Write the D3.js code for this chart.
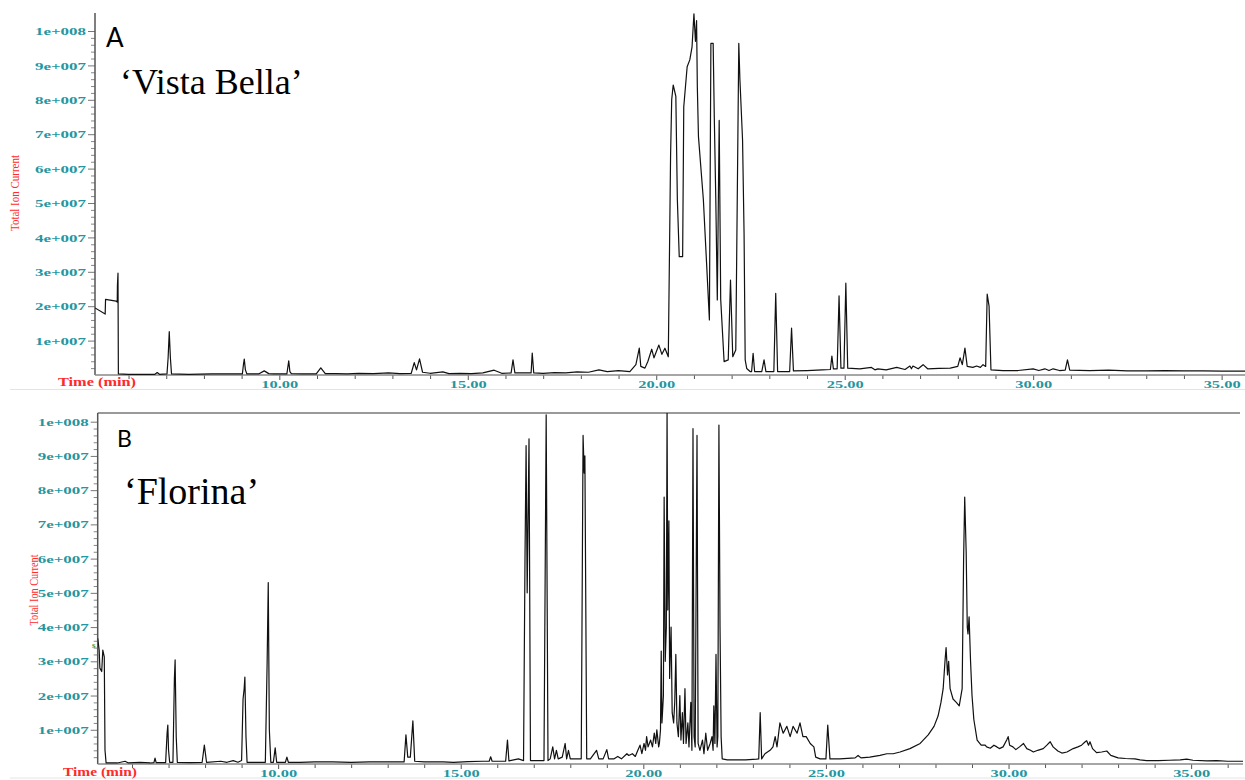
<!DOCTYPE html>
<html>
<head>
<meta charset="utf-8">
<script src="https://cdn.jsdelivr.net/npm/d3@7"></script>
<style>
    body { margin: 0; background: #fff; }
    svg { display: block; }
</style>
</head>
<body>
<div id="chart"></div>
<script>
// retention time (min) / total ion current (x 1e6)
var vistaBellaTime = [5.11,5.38,5.39,5.67,5.70,5.705,5.72,5.73,6.0,6.4,6.7,6.76,6.82,7.02,7.05,7.08,7.11,7.14,7.6,8.2,8.8,9.02,9.05,9.07,9.10,9.14,9.45,9.60,9.72,9.85,10.20,10.25,10.28,10.32,10.6,10.98,11.10,11.22,11.5,11.8,12.1,12.5,12.9,13.2,13.50,13.58,13.64,13.72,13.80,14.0,14.34,14.5,14.8,15.1,15.4,15.70,15.9,16.15,16.20,16.25,16.50,16.68,16.71,16.75,17.0,17.3,17.6,17.9,18.2,18.48,18.7,19.0,19.30,19.46,19.55,19.59,19.70,19.78,19.88,19.94,20.07,20.15,20.23,20.32,20.38,20.41,20.45,20.52,20.56,20.61,20.70,20.73,20.82,20.89,20.95,21.00,21.04,21.07,21.09,21.12,21.25,21.34,21.41,21.45,21.51,21.54,21.58,21.62,21.67,21.71,21.80,21.91,21.97,22.03,22.11,22.19,22.22,22.29,22.33,22.36,22.40,22.49,22.53,22.57,22.61,22.80,22.86,22.91,23.12,23.17,23.22,23.54,23.59,23.64,24.0,24.4,24.62,24.66,24.70,24.80,24.85,24.90,24.98,25.03,25.08,25.4,25.71,25.8,25.88,26.1,26.38,26.6,26.73,26.77,26.81,26.95,27.08,27.2,27.5,27.8,28.0,28.06,28.12,28.19,28.25,28.40,28.50,28.60,28.67,28.74,28.78,28.83,28.88,29.2,29.6,30.0,30.15,30.31,30.42,30.53,30.7,30.85,30.91,30.97,31.5,32.0,32.5,33.0,33.5,34.0,34.5,35.0,35.62];
var vistaBellaTIC = [19.5,17.7,22.0,21.5,21.2,26.0,29.6,0.3,0.2,0.2,0.2,0.7,0.2,0.3,5.0,12.6,5.0,0.3,0.2,0.3,0.3,0.3,3.2,4.6,1.5,0.3,0.3,1.2,0.4,0.3,0.3,4.1,1.0,0.4,0.3,0.3,2.1,0.4,0.4,0.3,0.5,0.4,0.6,0.4,0.5,3.6,1.5,4.7,0.8,0.5,0.9,0.4,0.5,0.4,0.6,1.4,0.5,0.6,4.4,0.6,0.6,0.6,6.4,0.6,0.5,0.7,0.6,0.9,0.8,1.5,1.0,1.3,1.0,3.0,7.8,2.5,2.0,4.0,7.5,5.0,8.7,6.0,7.8,5.3,63.5,80,84.3,81,51,34.4,34.4,78,89.6,91.6,95.4,105,97,103,83.8,69.3,51,31.5,16,96.4,96.4,75,51,21.8,74,22,3.9,4.4,27.6,5.3,7.3,96.4,85.8,68.3,41.2,4.4,1.9,1.0,1.0,6.3,1.0,1.0,4.4,1.0,1.0,23.7,1.0,1.0,13.6,1.2,1.3,1.5,1.6,5.5,1.8,1.8,23,2.0,2.0,26.7,2.0,1.8,2.2,1.5,1.8,1.5,2.2,1.6,2.6,1.8,2.6,1.8,3.0,1.8,1.9,2.0,2.5,5.0,3.0,7.8,2.5,2.2,2.6,2.2,3.0,2.5,23.5,20,1.5,1.3,1.3,1.8,1.3,1.8,1.3,1.8,1.3,1.4,4.4,1.4,1.3,1.4,1.2,1.2,1.3,1.2,1.2,1.1,1.1];

var florinaTime = [5.06,5.10,5.12,5.17,5.20,5.24,5.26,5.29,5.6,5.81,5.9,6.22,6.5,6.60,6.63,6.66,6.92,6.96,6.98,7.00,7.03,7.12,7.16,7.18,7.21,7.24,7.6,7.92,7.98,8.04,8.43,8.6,8.77,8.9,9.00,9.04,9.07,9.09,9.12,9.15,9.65,9.70,9.73,9.76,9.80,9.87,9.92,9.96,10.20,10.24,10.28,10.6,11.0,11.5,12.0,12.5,13.0,13.45,13.50,13.55,13.62,13.69,13.74,14.0,14.52,14.8,15.2,15.6,15.78,15.82,15.86,16.23,16.28,16.32,16.58,16.72,16.76,16.79,16.82,16.87,16.91,17.28,17.34,17.39,17.45,17.52,17.57,17.62,17.67,17.78,17.86,17.90,17.95,18.00,18.10,18.20,18.30,18.35,18.38,18.40,18.45,18.55,18.72,18.78,18.90,19.00,19.05,19.20,19.30,19.40,19.55,19.60,19.70,19.78,19.85,19.91,19.96,20.02,20.06,20.09,20.13,20.20,20.25,20.30,20.34,20.37,20.42,20.44,20.47,20.49,20.51,20.55,20.57,20.60,20.63,20.65,20.67,20.70,20.72,20.76,20.79,20.83,20.86,20.89,20.92,20.96,21.00,21.03,21.07,21.10,21.14,21.17,21.22,21.25,21.30,21.33,21.36,21.39,21.42,21.47,21.50,21.55,21.62,21.66,21.71,21.76,21.83,21.88,21.91,21.93,21.96,21.99,22.02,22.04,22.07,22.10,22.13,22.16,22.30,22.50,22.80,23.10,23.16,23.20,23.24,23.33,23.47,23.55,23.61,23.66,23.74,23.83,23.93,24.02,24.10,24.21,24.29,24.37,24.46,24.57,24.67,24.72,24.84,25.00,25.05,25.11,25.38,25.80,25.88,25.96,26.20,26.48,26.67,26.84,27.03,27.30,27.58,27.80,27.96,28.07,28.15,28.21,28.26,28.29,28.33,28.36,28.40,28.48,28.57,28.65,28.73,28.77,28.80,28.84,28.87,28.89,28.92,28.96,29.00,29.05,29.14,29.25,29.36,29.40,29.50,29.60,29.68,29.75,29.85,29.95,29.99,30.03,30.12,30.20,30.30,30.41,30.50,30.60,30.68,30.80,30.95,31.05,31.14,31.22,31.35,31.46,31.60,31.77,31.90,32.00,32.10,32.14,32.19,32.23,32.30,32.41,32.55,32.69,32.80,33.00,33.20,33.46,33.60,33.78,34.10,34.40,34.70,34.88,35.05,35.43,35.70,36.00,36.42];
var florinaTIC = [36.7,33.3,28,27,33.3,31.3,4,0.3,0.3,0.8,0.3,0.5,0.3,0.4,1.7,0.4,0.4,9,11.4,4,0.5,0.5,25,30.4,8,0.5,0.4,0.5,5.5,0.5,0.8,0.5,1.0,0.5,1,19,22,25.4,8,0.5,0.5,30,53,10,0.5,0.5,4.7,0.5,0.5,2,0.5,0.5,0.6,0.6,0.5,0.6,0.6,0.6,8.5,2,2,12.6,0.8,0.6,0.6,0.5,0.7,0.8,0.8,2.1,0.8,0.8,7,0.9,1.5,1,60,93,50,95,1,1,102,1,1.5,5,1.5,4,1.5,2,6,1.5,4,1.5,1.5,1.5,1.5,96,85,90,1.5,1.5,4,1.5,1.5,4.2,1.5,1.5,2.2,1.5,3,2.5,3,2.2,4,5.5,3,6,4,8,5,7,5,9,6,10,5,6,10,33,12,20,78,30,40,104,45,71,25,40,15,12,18,32,12,8,20,7,15,6,22,6,12,5,18,4,98,8,5,96,6,4,7,3,9,4,6,8,4,17,6,32,5,8,99,40,8,1.5,1.2,1.2,1.2,1.4,1.5,15,1.5,3,4,5,8,5,12,9,11,8,11,9,12,8,8,6,5,2,1.5,1.5,11.4,1.5,1.5,1.8,2.5,1.8,2,2.5,3,3,3.5,4.5,6,8.5,11,14,18,22,30,34,26,30,22,19,18,17,22,60,78,62,40,38,43,30,20,13,7,5.5,5.5,5,4.6,5.5,5,4.5,5,7,8,5.5,5,4.2,5,6,4.5,4,3.5,4,4.5,5.5,6.5,5,3.8,3.2,3.5,4.5,5,5.5,6.5,6.8,5.5,6.5,4.5,3.3,3.5,3.8,2.5,1.8,1.6,1.5,1.2,1.0,1.0,1.1,1.2,1.4,1.1,0.9,1.0,0.8,0.8];

var yTickValues = [10,20,30,40,50,60,70,80,90,100];
var yTickLabels = ["1e+007","2e+007","3e+007","4e+007","5e+007","6e+007","7e+007","8e+007","9e+007","1e+008"];
var xTickValues = [10,15,20,25,30,35];
var xTickLabels = ["10.00","15.00","20.00","25.00","30.00","35.00"];

var TEAL = "#2596a0", RED = "#ff2a2a";

var Chromatogram = function (options) {
    var that = this;
    that.o = options;

    this.render = function () {
        that.x = d3.scaleLinear().domain([that.o.tStart, that.o.tEnd]).range([that.o.left, that.o.right]);
        that.y = d3.scaleLinear().domain([0, 100]).range([that.o.bottom, that.o.top100]);
        that.data = that.o.time.map(function (t, i) { return [t, that.o.tic[i]]; });
        that.g = that.o.svg.append("g");
        that.frame().yAxis().xAxis().trace().labels();
        return that;
    };

    this.frame = function () {
        if (that.o.topBorder) {
            that.g.append("line")
                .attr("x1", that.o.left).attr("x2", that.o.right - 3)
                .attr("y1", that.o.topBorder).attr("y2", that.o.topBorder)
                .attr("stroke", "#999").attr("stroke-width", 2);
        }
        that.g.append("line")
            .attr("x1", 10).attr("x2", 1245)
            .attr("y1", that.o.separator).attr("y2", that.o.separator)
            .attr("stroke", "#e4e4e4").attr("stroke-width", 1);
        return this;
    };

    this.yAxis = function () {
        var minor = d3.range(2, 101, 2).filter(function (v) { return v % 10 !== 0; });
        that.g.append("g")
            .attr("transform", "translate(" + that.o.left + ",0)")
            .call(d3.axisLeft(that.y).tickValues(minor).tickSize(4).tickFormat(""))
            .call(function (g) { g.select(".domain").remove(); g.selectAll("line").attr("stroke", "#888"); });

        var ax = that.g.append("g")
            .attr("transform", "translate(" + that.o.left + ",0)")
            .call(d3.axisLeft(that.y).tickValues(yTickValues).tickSize(7).tickPadding(2)
                .tickFormat(function (d, i) { return yTickLabels[i]; }));
        ax.select(".domain").remove();
        ax.selectAll("line").attr("stroke", "#777");
        ax.selectAll("text")
            .attr("fill", TEAL)
            .attr("font-family", "Liberation Serif")
            .attr("font-weight", "bold")
            .attr("font-size", 10)
            .attr("textLength", 51)
            .attr("lengthAdjust", "spacingAndGlyphs")
            .attr("dy", "0.36em");

        that.g.append("line")
            .attr("x1", that.o.left).attr("x2", that.o.left)
            .attr("y1", that.o.axisTop).attr("y2", that.o.bottom)
            .attr("stroke", "#555").attr("stroke-width", 1.5);
        return this;
    };

    this.xAxis = function () {
        var minor = d3.range(6, Math.floor(that.o.tEnd) + 1).filter(function (v) { return v % 5 !== 0; });
        that.g.append("g")
            .attr("transform", "translate(0," + that.o.bottom + ")")
            .call(d3.axisBottom(that.x).tickValues(minor).tickSize(4).tickFormat(""))
            .call(function (g) { g.select(".domain").remove(); g.selectAll("line").attr("stroke", "#555"); });

        var ax = that.g.append("g")
            .attr("transform", "translate(0," + that.o.bottom + ")")
            .call(d3.axisBottom(that.x).tickValues(xTickValues).tickSize(5).tickPadding(1)
                .tickFormat(function (d, i) { return xTickLabels[i]; }));
        ax.select(".domain").remove();
        ax.selectAll("line").attr("stroke", "#555");
        ax.selectAll("text")
            .attr("fill", TEAL)
            .attr("font-family", "Liberation Serif")
            .attr("font-weight", "bold")
            .attr("font-size", 10.5)
            .attr("textLength", 37)
            .attr("lengthAdjust", "spacingAndGlyphs");

        that.g.append("line")
            .attr("x1", that.o.left).attr("x2", that.o.right)
            .attr("y1", that.o.bottom).attr("y2", that.o.bottom)
            .attr("stroke", "#888").attr("stroke-width", 1.5);

        that.g.append("text")
            .attr("x", that.o.timeLabel[0]).attr("y", that.o.timeLabel[1])
            .attr("fill", RED)
            .attr("font-family", "Liberation Serif")
            .attr("font-weight", "bold")
            .attr("font-size", 12)
            .attr("textLength", that.o.timeLabel[2])
            .attr("lengthAdjust", "spacingAndGlyphs")
            .text("Time (min)");
        return this;
    };

    this.trace = function () {
        var id = "clip" + that.o.key;
        that.o.svg.append("clipPath").attr("id", id)
            .append("rect")
            .attr("x", that.o.left).attr("y", that.o.axisTop)
            .attr("width", that.o.right - that.o.left)
            .attr("height", that.o.bottom - that.o.axisTop);

        var line = d3.line()
            .x(function (d) { return that.x(d[0]); })
            .y(function (d) { return that.y(d[1]); });

        that.g.append("path")
            .datum(that.data)
            .attr("clip-path", "url(#" + id + ")")
            .attr("fill", "none")
            .attr("stroke", "#111")
            .attr("stroke-width", 1.2)
            .attr("stroke-linejoin", "round")
            .attr("d", line);
        return this;
    };

    this.labels = function () {
        var yl = that.o.yLabel;
        that.g.append("text")
            .attr("transform", "translate(" + yl[0] + "," + yl[1] + ") rotate(-90)")
            .attr("text-anchor", "middle")
            .attr("fill", RED)
            .attr("font-family", "Liberation Serif")
            .attr("font-size", 13)
            .attr("textLength", yl[2])
            .attr("lengthAdjust", "spacingAndGlyphs")
            .text("Total Ion Current");

        that.g.append("text")
            .attr("x", that.o.letter[0]).attr("y", that.o.letter[1])
            .attr("font-family", "Lato, 'Open Sans', sans-serif")
            .attr("font-size", that.o.letter[2])
            .attr("fill", "#000")
            .text(that.o.key);

        that.g.append("text")
            .attr("x", that.o.name[0]).attr("y", that.o.name[1])
            .attr("font-family", "'Liberation Serif', serif")
            .attr("font-size", that.o.name[2])
            .attr("fill", "#000")
            .text(that.o.cultivar);
        return this;
    };
};

var svg = d3.select("#chart").append("svg")
    .attr("width", 1245)
    .attr("height", 780);

new Chromatogram({
    svg: svg, key: "A", cultivar: "\u2018Vista Bella\u2019",
    time: vistaBellaTime, tic: vistaBellaTIC,
    tStart: 5.11, tEnd: 35.62,
    left: 95, right: 1245, bottom: 375, top100: 31, axisTop: 13,
    separator: 389.5,
    timeLabel: [58, 386, 78],
    yLabel: [19, 193, 76],
    letter: [106, 47, 26],
    name: [120, 94, 36]
}).render();

new Chromatogram({
    svg: svg, key: "B", cultivar: "\u2018Florina\u2019",
    time: florinaTime, tic: florinaTIC,
    tStart: 5.06, tEnd: 36.42,
    left: 97.7, right: 1243, bottom: 764, top100: 421.7, axisTop: 413,
    topBorder: 413,
    separator: 778,
    timeLabel: [63, 776, 74],
    yLabel: [38, 590, 71],
    letter: [117, 447, 23],
    name: [124, 504, 38]
}).render();

// stray mark on the original scan
svg.append("text").attr("x", 92).attr("y", 648)
    .attr("fill", "#3a9a3a").attr("font-family", "Liberation Serif")
    .attr("font-weight", "bold").attr("font-size", 9).text("s");
</script>
</body>
</html>
